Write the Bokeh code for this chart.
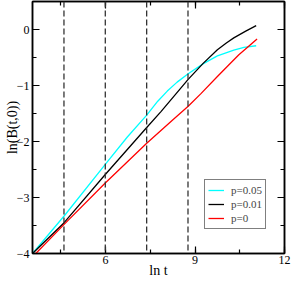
from bokeh.plotting import figure
from bokeh.models import (LinearAxis, SingleIntervalTicker, Span, Legend, LegendItem,
                          Range1d, CustomJSTickFormatter)
from bokeh.embed import file_html
from bokeh.resources import INLINE

# Data
x_p005 = [3.55, 4.61, 5.99, 6.73, 7.38, 7.75, 8.07, 8.40, 8.77, 9.28, 9.75, 10.30, 10.64, 11.05]
y_p005 = [-4.00, -3.33, -2.41, -1.92, -1.53, -1.28, -1.10, -0.94, -0.79, -0.61, -0.47, -0.37, -0.32, -0.29]

x_p001 = [3.55, 4.61, 5.99, 7.38, 7.85, 8.77, 9.28, 9.75, 10.05, 10.30, 10.70, 11.05]
y_p001 = [-4.00, -3.45, -2.59, -1.75, -1.47, -0.89, -0.60, -0.36, -0.24, -0.15, -0.03, 0.07]

x_p0 = [3.66, 4.61, 5.99, 7.38, 8.24, 8.77, 9.19, 9.75, 10.08, 10.47, 11.08]
y_p0 = [-4.00, -3.48, -2.74, -2.03, -1.62, -1.37, -1.15, -0.84, -0.66, -0.45, -0.17]

dashed_x = [4.605, 5.991, 7.378, 8.764]

labels = ["p=0.05", "p=0.01", "p=0"]
colors = ["#00FFFF", "#000000", "#FF0000"]
x_title = "ln t"
y_title = "ln(B(t,0))"

FONT = "Times New Roman"

p = figure(width=291, height=281, x_range=Range1d(3.55, 12), y_range=Range1d(-4, 0.5),
           output_backend="svg", toolbar_location=None,
           min_border_left=32, min_border_right=7, min_border_top=1, min_border_bottom=28)
p.xgrid.visible = False
p.ygrid.visible = False
p.outline_line_color = "black"
p.outline_line_width = 1.5
p.background_fill_color = "white"

bottom = p.below[0]
left = p.left[0]
bottom.ticker = SingleIntervalTicker(interval=3, num_minor_ticks=2)
left.ticker = SingleIntervalTicker(interval=1, num_minor_ticks=2)

blank = CustomJSTickFormatter(code="return ''")
top = LinearAxis(ticker=SingleIntervalTicker(interval=3, num_minor_ticks=2), formatter=blank)
right = LinearAxis(ticker=SingleIntervalTicker(interval=1, num_minor_ticks=2), formatter=blank)
p.add_layout(top, "above")
p.add_layout(right, "right")

for ax in [bottom, left, top, right]:
    ax.axis_line_color = "black"
    ax.axis_line_width = 1.5
    ax.major_tick_in = 7
    ax.major_tick_out = 0
    ax.minor_tick_in = 4
    ax.minor_tick_out = 0
    ax.major_tick_line_color = "black"
    ax.minor_tick_line_color = "black"
    ax.major_tick_line_width = 1.2
    ax.minor_tick_line_width = 1.2
    ax.major_label_text_font = FONT
    ax.major_label_text_font_style = "normal"
    ax.major_label_text_font_size = "12px"
    ax.major_label_text_color = "black"
    ax.axis_label_text_font = FONT
    ax.axis_label_text_font_style = "normal"
    ax.axis_label_text_font_size = "14px"
    ax.axis_label_text_color = "black"

for ax in [top, right]:
    ax.major_label_standoff = 0
    ax.axis_label = None

bottom.axis_label = x_title
bottom.major_label_standoff = 2
bottom.axis_label_standoff = -4
left.axis_label = y_title
left.major_label_standoff = 3
left.axis_label_standoff = -6

for v in dashed_x:
    p.add_layout(Span(location=v, dimension="height", line_color="#333333",
                      line_width=1.3, line_dash="6 3"))

r1 = p.line(x_p005, y_p005, line_color=colors[0], line_width=1.3)
r2 = p.line(x_p001, y_p001, line_color=colors[1], line_width=1.3)
r3 = p.line(x_p0, y_p0, line_color=colors[2], line_width=1.3)

legend = Legend(items=[LegendItem(label=labels[0], renderers=[r1]),
                       LegendItem(label=labels[1], renderers=[r2]),
                       LegendItem(label=labels[2], renderers=[r3])],
                location=(172, 24))
legend.padding = 3
legend.spacing = 0
legend.margin = 0
legend.label_height = 14
legend.glyph_height = 14
legend.glyph_width = 16
legend.label_standoff = 7
legend.label_text_font = FONT
legend.label_text_font_style = "normal"
legend.label_text_font_size = "11px"
legend.border_line_color = "black"
legend.border_line_width = 1
legend.background_fill_color = "white"
legend.background_fill_alpha = 1.0
p.add_layout(legend, "center")

open("out.html", "w").write(file_html(p, INLINE))
